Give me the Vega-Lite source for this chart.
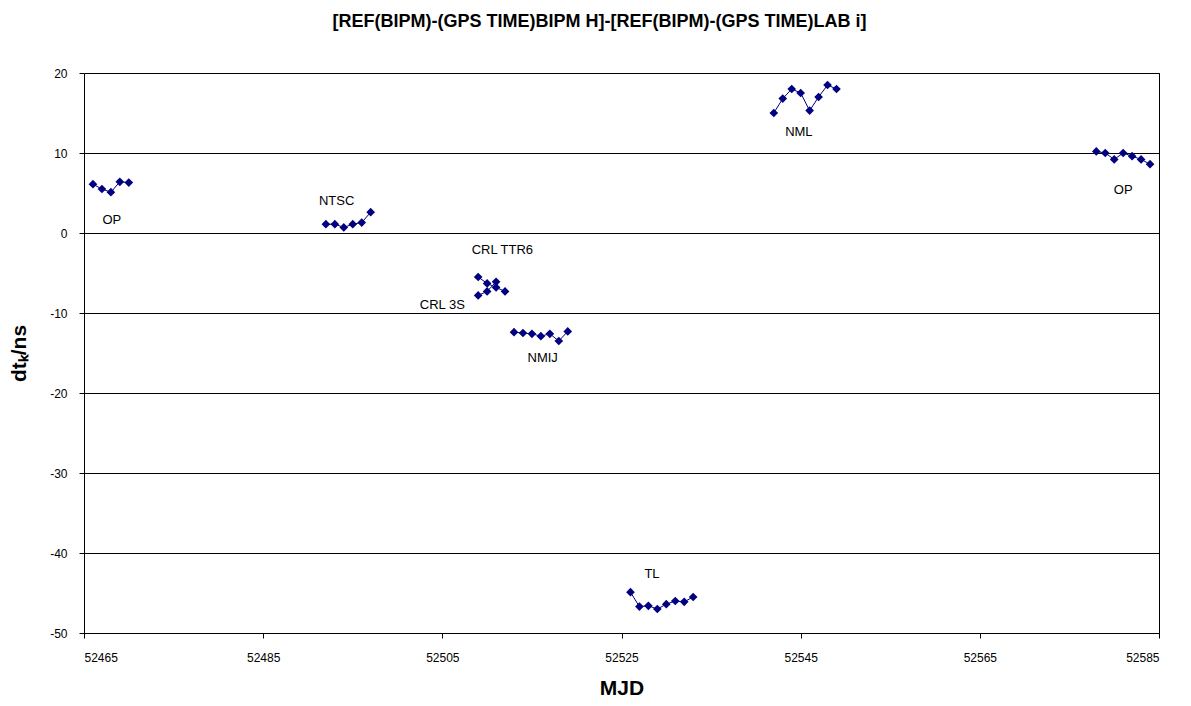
{
  "$schema": "https://vega.github.io/schema/vega-lite/v6.json",
  "width": 1075,
  "height": 560,
  "autosize": {"type": "none"},
  "padding": {"left": 84, "top": 73, "right": 32, "bottom": 73},
  "background": "white",
  "title": {
    "text": "[REF(BIPM)-(GPS TIME)BIPM H]-[REF(BIPM)-(GPS TIME)LAB i]",
    "font": "Liberation Sans",
    "fontSize": 18,
    "fontWeight": "bold",
    "color": "black",
    "anchor": "middle",
    "offset": 36,
    "dx": -22
  },
  "config": {
    "view": {"stroke": "black", "strokeWidth": 1},
    "axis": {"labelFont": "Liberation Sans", "titleFont": "Liberation Sans", "labelColor": "black", "titleColor": "black", "domainColor": "black", "tickColor": "black"}
  },
  "datasets": {
    "pts": [
      {"s": "OP1", "mjd": 52466, "v": 6.1},
      {"s": "OP1", "mjd": 52467, "v": 5.5},
      {"s": "OP1", "mjd": 52468, "v": 5.1},
      {"s": "OP1", "mjd": 52469, "v": 6.4},
      {"s": "OP1", "mjd": 52470, "v": 6.3},
      {"s": "NTSC", "mjd": 52492, "v": 1.1},
      {"s": "NTSC", "mjd": 52493, "v": 1.1},
      {"s": "NTSC", "mjd": 52494, "v": 0.7},
      {"s": "NTSC", "mjd": 52495, "v": 1.1},
      {"s": "NTSC", "mjd": 52496, "v": 1.3},
      {"s": "NTSC", "mjd": 52497, "v": 2.6},
      {"s": "TTR6", "mjd": 52509, "v": -5.5},
      {"s": "TTR6", "mjd": 52510, "v": -6.3},
      {"s": "TTR6", "mjd": 52511, "v": -6.8},
      {"s": "TTR6", "mjd": 52512, "v": -7.3},
      {"s": "3S", "mjd": 52509, "v": -7.8},
      {"s": "3S", "mjd": 52510, "v": -7.3},
      {"s": "3S", "mjd": 52511, "v": -6.1},
      {"s": "NMIJ", "mjd": 52513, "v": -12.4},
      {"s": "NMIJ", "mjd": 52514, "v": -12.5},
      {"s": "NMIJ", "mjd": 52515, "v": -12.6},
      {"s": "NMIJ", "mjd": 52516, "v": -12.9},
      {"s": "NMIJ", "mjd": 52517, "v": -12.6},
      {"s": "NMIJ", "mjd": 52518, "v": -13.5},
      {"s": "NMIJ", "mjd": 52519, "v": -12.3},
      {"s": "TL", "mjd": 52526, "v": -44.9},
      {"s": "TL", "mjd": 52527, "v": -46.7},
      {"s": "TL", "mjd": 52528, "v": -46.6},
      {"s": "TL", "mjd": 52529, "v": -47.0},
      {"s": "TL", "mjd": 52530, "v": -46.4},
      {"s": "TL", "mjd": 52531, "v": -46.0},
      {"s": "TL", "mjd": 52532, "v": -46.1},
      {"s": "TL", "mjd": 52533, "v": -45.5},
      {"s": "NML", "mjd": 52542, "v": 15.0},
      {"s": "NML", "mjd": 52543, "v": 16.8},
      {"s": "NML", "mjd": 52544, "v": 18.0},
      {"s": "NML", "mjd": 52545, "v": 17.5},
      {"s": "NML", "mjd": 52546, "v": 15.3},
      {"s": "NML", "mjd": 52547, "v": 17.0},
      {"s": "NML", "mjd": 52548, "v": 18.5},
      {"s": "NML", "mjd": 52549, "v": 18.0},
      {"s": "OP2", "mjd": 52578, "v": 10.2},
      {"s": "OP2", "mjd": 52579, "v": 10.0},
      {"s": "OP2", "mjd": 52580, "v": 9.2},
      {"s": "OP2", "mjd": 52581, "v": 10.0},
      {"s": "OP2", "mjd": 52582, "v": 9.6},
      {"s": "OP2", "mjd": 52583, "v": 9.2},
      {"s": "OP2", "mjd": 52584, "v": 8.6}
    ],
    "labels": [
      {"t": "OP", "mjd": 52468.1, "v": 1.6},
      {"t": "NTSC", "mjd": 52493.2, "v": 4.0},
      {"t": "CRL TTR6", "mjd": 52511.7, "v": -2.1},
      {"t": "CRL 3S", "mjd": 52505.0, "v": -9.0},
      {"t": "NMIJ", "mjd": 52516.2, "v": -15.6},
      {"t": "NML", "mjd": 52544.8, "v": 12.6},
      {"t": "OP", "mjd": 52581.0, "v": 5.4},
      {"t": "TL", "mjd": 52528.4, "v": -42.6}
    ]
  },
  "layer": [
    {
      "data": {"name": "pts"},
      "mark": {"type": "line", "color": "#000080", "strokeWidth": 1},
      "encoding": {
        "x": {
          "field": "mjd", "type": "quantitative",
          "scale": {"domain": [52465, 52585], "nice": false, "zero": false},
          "axis": {"values": [52465, 52485, 52505, 52525, 52545, 52565, 52585], "format": "d", "grid": false, "title": "MJD", "titleFontSize": 21, "titleFontWeight": "bold", "titlePadding": 14, "labelFontSize": 12, "tickSize": 5, "labelPadding": 14}
        },
        "y": {
          "field": "v", "type": "quantitative",
          "scale": {"domain": [-50, 20], "nice": false, "zero": false},
          "axis": {"values": [-50, -40, -30, -20, -10, 0, 10, 20], "labelExpr": "'' + datum.value", "grid": true, "gridColor": "black", "gridOpacity": 1, "gridWidth": 1, "title": "dtₖ/ns", "titleFontSize": 21, "titleFontWeight": "bold", "titlePadding": 20, "labelFontSize": 12, "tickSize": 5, "labelPadding": 12}
        },
        "detail": {"field": "s"}
      }
    },
    {
      "data": {"name": "pts"},
      "mark": {"type": "point", "shape": "diamond", "filled": true, "color": "#000080", "size": 75, "opacity": 1},
      "encoding": {
        "x": {"field": "mjd", "type": "quantitative"},
        "y": {"field": "v", "type": "quantitative"}
      }
    },
    {
      "data": {"name": "labels"},
      "mark": {"type": "text", "font": "Liberation Sans", "fontSize": 13, "color": "black", "align": "center", "baseline": "middle"},
      "encoding": {
        "x": {"field": "mjd", "type": "quantitative"},
        "y": {"field": "v", "type": "quantitative"},
        "text": {"field": "t"}
      }
    }
  ]
}
